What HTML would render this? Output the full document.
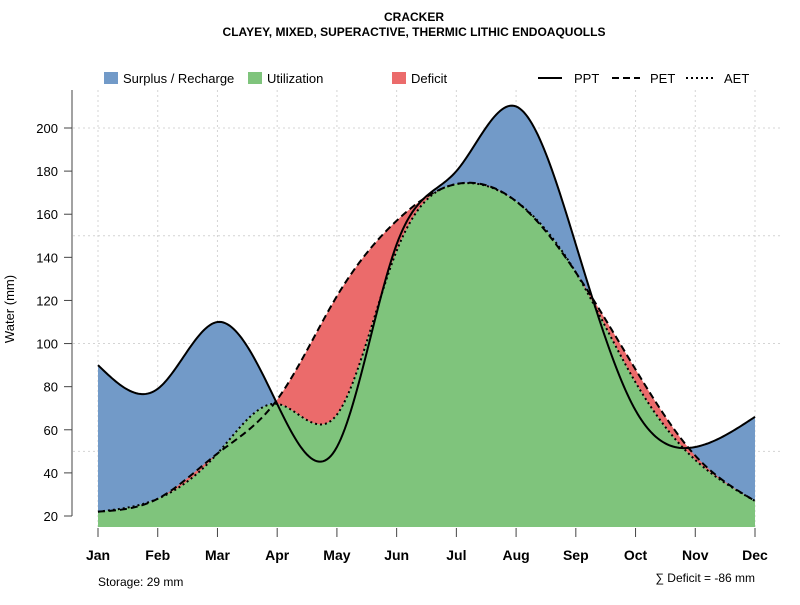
<!DOCTYPE html>
<html><head><meta charset="utf-8"><style>
body{margin:0;background:#fff;font-family:"Liberation Sans",sans-serif}
svg text{font-family:"Liberation Sans","DejaVu Sans",sans-serif}
</style></head><body>
<svg id="c" width="800" height="600" xmlns="http://www.w3.org/2000/svg">
<text x="414" y="21" text-anchor="middle" font-size="12" font-weight="bold">CRACKER</text>
<text x="414" y="36" text-anchor="middle" font-size="12" font-weight="bold">CLAYEY, MIXED, SUPERACTIVE, THERMIC LITHIC ENDOAQUOLLS</text>
<g>
<rect x="104" y="72" width="14" height="12" fill="#729ac8"/>
<text x="123" y="83" font-size="13">Surplus / Recharge</text>
<rect x="248" y="72" width="14" height="12" fill="#7fc47c"/>
<text x="267" y="83" font-size="13">Utilization</text>
<rect x="392" y="72" width="14" height="12" fill="#eb6b6b"/>
<text x="411" y="83" font-size="13">Deficit</text>
<line x1="538" y1="78" x2="562" y2="78" stroke="#000" stroke-width="2"/>
<text x="574" y="83" font-size="13">PPT</text>
<line x1="612" y1="78" x2="640" y2="78" stroke="#000" stroke-width="2" stroke-dasharray="7,4"/>
<text x="650" y="83" font-size="13">PET</text>
<line x1="686" y1="78" x2="714" y2="78" stroke="#000" stroke-width="2" stroke-dasharray="2,3"/>
<text x="724" y="83" font-size="13">AET</text>
</g>
<g id="grid"></g><g id="fills"></g><g id="lines"></g><g id="axes"></g>
<text x="14" y="309" font-size="13" text-anchor="middle" transform="rotate(-90 14 309)">Water (mm)</text>
<text x="98" y="586" font-size="12">Storage: 29 mm</text>
<text x="755" y="582" font-size="12" text-anchor="end">∑ Deficit = -86 mm</text>
</svg>
<script>
const months=["Jan","Feb","Mar","Apr","May","Jun","Jul","Aug","Sep","Oct","Nov","Dec"];
const ppt=[90,79,110,72,52,146,180,210,146,69,52,66];
const pet=[22,28,49,74,122,157,174,166,133,88,48,27];
const aet=[22,28,49,72,67,143,174,166,133,82,46,27];
const yTicks=[20,40,60,80,100,120,140,160,180,200];
const yGrid=[50,100,150,200];
const NS="http://www.w3.org/2000/svg";
const X=i=>98+i*(755-98)/11;
const Y=v=>516-(v-20)*388/180;
const YB=527;
function el(t,a,p){const e=document.createElementNS(NS,t);for(const k in a)e.setAttribute(k,a[k]);document.getElementById(p).appendChild(e);return e;}
function spline(y){const n=y.length,m=new Array(n).fill(0);
const c=[],r=[];for(let i=0;i<n;i++){if(i==0||i==n-1){c[i]=1;r[i]=0;}else{c[i]=4;r[i]=6*(y[i+1]-2*y[i]+y[i-1]);}}
const cp=[],rp=[];cp[0]=0;rp[0]=0;
for(let i=1;i<n;i++){const sub=(i==n-1)?0:1;const den=c[i]-sub*cp[i-1];const sup=(i==n-1)?0:1;cp[i]=sup/den;rp[i]=(r[i]-sub*rp[i-1])/den;}
m[n-1]=rp[n-1];for(let i=n-2;i>=0;i--)m[i]=rp[i]-cp[i]*m[i+1];
const out=[];const S=30;
for(let i=0;i<n-1;i++)for(let s=0;s<(i==n-2?S+1:S);s++){const t=s/S;
out.push((1-t)*y[i]+t*y[i+1]+((Math.pow(1-t,3)-(1-t))*m[i]+(t*t*t-t)*m[i+1])/6);}
return out;}
const P=spline(ppt),E=spline(pet),A=spline(aet),N=P.length;
const xs=k=>X(k*11/(N-1));
function poly(top,bot){let s="";for(let k=0;k<N;k++)s+=(k?"L":"M")+xs(k).toFixed(2)+","+top[k].toFixed(2);for(let k=N-1;k>=0;k--)s+="L"+xs(k).toFixed(2)+","+bot[k].toFixed(2);return s+"Z";}
const aY=A.map(Y),pY=P.map(v=>Y(v)),eY=E.map(Y);
const blueTop=pY.map((v,k)=>Math.min(v,aY[k]));
for(let i=0;i<12;i++){const e=el("line",{x1:X(i),x2:X(i),y1:90,y2:YB,stroke:"#d4d4d4","stroke-dasharray":"2,3"},"grid");

}
yGrid.forEach(v=>{const e=el("line",{x1:73,x2:782,y1:Y(v),y2:Y(v),stroke:"#d4d4d4","stroke-dasharray":"2,3"},"grid");

});
let f=el("path",{d:poly(blueTop,aY),fill:"#729ac8"},"fills");


f=el("path",{d:poly(eY.map((v,k)=>Math.min(v,aY[k])),aY),fill:"#eb6b6b"},"fills");


f=el("path",{d:poly(aY,aY.map(()=>YB)),fill:"#7fc47c"},"fills");


function line(arr,dash,name){let s="";arr.forEach((v,k)=>s+=(k?"L":"M")+xs(k).toFixed(2)+","+v.toFixed(2));
const e=el("path",{d:s,fill:"none",stroke:"#000","stroke-width":2,"stroke-dasharray":dash},"lines");

}
line(pY,"none","ppt-line");line(eY,"7,4","pet-line");line(aY,"2,3","aet-line");
let ax=el("line",{x1:72,x2:72,y1:90,y2:516,stroke:"#444"},"axes");


yTicks.forEach(v=>{const t=el("line",{x1:64,x2:72,y1:Y(v),y2:Y(v),stroke:"#444"},"axes");


const l=el("text",{x:58,y:Y(v)+5,"font-size":13,"text-anchor":"end"},"axes");l.textContent=v;

});
months.forEach((m,i)=>{const t=el("line",{x1:X(i),x2:X(i),y1:528,y2:537,stroke:"#444"},"axes");


const l=el("text",{x:X(i),y:560,"font-size":14,"font-weight":"bold","text-anchor":"middle"},"axes");l.textContent=m;

});
</script>
</body></html>
